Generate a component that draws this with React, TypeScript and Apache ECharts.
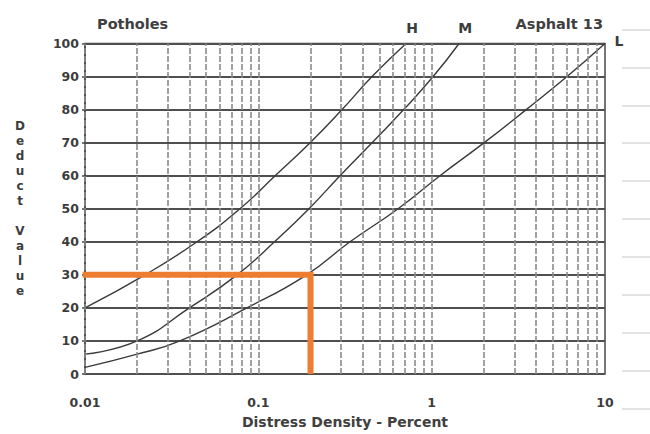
import React, { useEffect, useRef } from "react";
import * as echarts from "echarts";

// Curves: [distress density %, deduct value]
const curveH: [number, number][] = [
  [0.01, 20], [0.0222, 30], [0.0443, 40], [0.0784, 50], [0.125, 60],
  [0.199, 70], [0.304, 80], [0.453, 90], [0.712, 100],
];
const curveM: [number, number][] = [
  [0.01, 6], [0.02, 10], [0.04, 20], [0.0754, 30], [0.124, 40],
  [0.196, 50], [0.296, 60], [0.453, 70], [0.69, 80], [1.02, 90], [1.44, 100],
];
const curveL: [number, number][] = [
  [0.01, 2], [0.02, 6], [0.0353, 10], [0.086, 20], [0.19, 30], [0.338, 40],
  [0.64, 50], [1.117, 60], [2.01, 70], [3.51, 80], [6.04, 90], [10, 100],
];
const curveNames = ["H", "M", "L"];
// Example reading (orange)
const exampleLine: [number, number][] = [[0.0097, 30], [0.2, 30], [0.2, 0]];
// Log grid verticals
const decades = [0.01, 0.1, 1];
const multipliers = [1, 2, 3, 4, 5, 6, 7, 8, 9];
const gridXs: number[] = [];
decades.forEach((d) => multipliers.forEach((m) => gridXs.push(+(d * m).toPrecision(3))));

const yMin = 0;
const yMax = 100;
const yInterval = 10;
const xMin = 0.01;
const xMax = 10;

const FONT = "DejaVu Sans";
const INK = "#3a3a3a";

export default function App() {
  const ref = useRef<HTMLDivElement>(null);
  useEffect(() => {
    if (!ref.current) return;
    const chart = echarts.init(ref.current, null, { renderer: "svg" });
    const curves = [curveH, curveM, curveL];
    const labelOffsets: [number, number][] = [[6, -16], [6, -16], [14, -3]];
    const artifactYs = [30, 68, 106, 143, 181, 219, 257, 295, 333, 371, 409];
    chart.setOption({
      animation: false,
      backgroundColor: "#ffffff",
      title: [
        { text: "Potholes", left: 92, top: 11, textStyle: { fontFamily: FONT, fontSize: 14.5, fontWeight: "bold", color: "#404040" } },
        { text: "Asphalt 13", right: 42, top: 11, textStyle: { fontFamily: FONT, fontSize: 14.5, fontWeight: "bold", color: "#404040" } },
      ],
      grid: { left: 85, right: 45, top: 43.5, bottom: 52.5, show: true, borderColor: "#4a4a4a", borderWidth: 1.5 },
      xAxis: {
        type: "log",
        logBase: 10,
        min: xMin,
        max: xMax,
        axisLine: { show: false },
        axisTick: { show: false },
        splitLine: { show: false },
        minorTick: { show: false },
        axisLabel: { fontFamily: FONT, fontSize: 12.5, fontWeight: "bold", color: "#3c3c3c", margin: 22 },
        name: "Distress Density - Percent",
        nameLocation: "middle",
        nameGap: 41,
        nameTextStyle: { fontFamily: FONT, fontSize: 14, fontWeight: "bold", color: "#404040" },
      },
      yAxis: {
        type: "value",
        min: yMin,
        max: yMax,
        interval: yInterval,
        axisLine: { show: true, lineStyle: { color: "#4a4a4a", width: 1.5 } },
        axisTick: { show: true, length: 3, lineStyle: { color: "#4a4a4a", width: 1.5 } },
        splitLine: { show: true, lineStyle: { color: "#4f4f4f", width: 2 } },
        axisLabel: { fontFamily: FONT, fontSize: 12.5, fontWeight: "bold", color: "#3c3c3c", margin: 6 },
        name: "D\ne\nd\nu\nc\nt\n \nV\na\nl\nu\ne",
        nameLocation: "middle",
        nameRotate: 0,
        nameGap: 65,
        nameTextStyle: { fontFamily: FONT, fontSize: 12, fontWeight: "bold", color: "#3c3c3c", lineHeight: 15, align: "center", padding: [8, 0, 0, 0] },
      },
      graphic: artifactYs.map((y) => ({
        type: "line",
        silent: true,
        shape: { x1: 622, y1: y, x2: 650, y2: y },
        style: { stroke: "#c8c8c8", lineWidth: 1 },
      })),
      series: [
        {
          type: "line",
          name: "grid",
          data: [],
          silent: true,
          z: 1,
          markLine: {
            silent: true,
            symbol: ["none", "none"],
            label: { show: false },
            lineStyle: { color: "#8a8a8a", width: 1.6, type: [6, 2] },
            emphasis: { disabled: true },
            data: gridXs.map((v) => ({ xAxis: v })),
          },
        },
        ...curves.map((c, i) => ({
          type: "line",
          name: curveNames[i],
          data: c,
          smooth: 0.5,
          showSymbol: false,
          z: 3,
          lineStyle: { color: INK, width: 1.4 },
          itemStyle: { color: INK },
          markPoint: {
            symbol: "circle",
            symbolSize: 0,
            silent: true,
            data: [{ coord: c[c.length - 1] }],
            label: {
              show: true,
              position: "inside",
              formatter: curveNames[i],
              offset: labelOffsets[i],
              fontFamily: FONT,
              fontSize: 14,
              fontWeight: "bold",
              color: "#3c3c3c",
            },
          },
        })),
        {
          type: "line",
          name: "example",
          data: exampleLine,
          showSymbol: false,
          clip: false,
          z: 5,
          lineStyle: { color: "#ED7D31", width: 6, join: "miter", cap: "butt" },
          itemStyle: { color: "#ED7D31" },
        },
      ],
    });
    return () => chart.dispose();
  }, []);
  return (
    <div
      ref={ref}
      style={{ position: "fixed", left: 0, top: 0, width: 650, height: 434, background: "#fff" }}
    />
  );
}
